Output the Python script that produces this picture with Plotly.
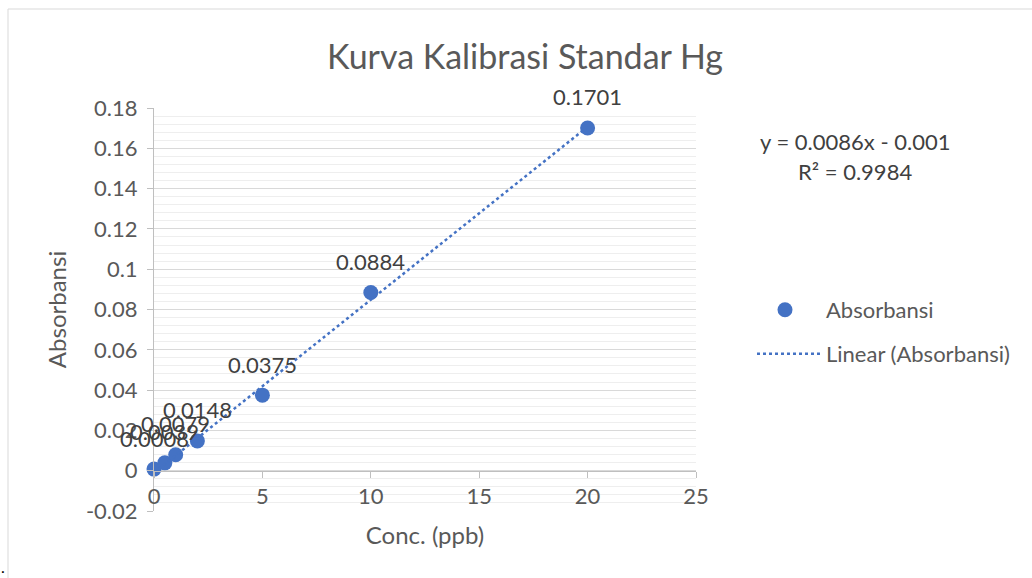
import numpy as np
import plotly.graph_objects as go

# ---- data ----
conc = [0, 0.5, 1, 2, 5, 10, 20]
absorb = [0.0008, 0.0039, 0.0079, 0.0148, 0.0375, 0.0884, 0.1701]
point_labels = ["0.0008", "0.0039", "0.0079", "0.0148", "0.0375", "0.0884", "0.1701"]
y_tickvals = [-0.02, 0, 0.02, 0.04, 0.06, 0.08, 0.1, 0.12, 0.14, 0.16, 0.18]
y_ticktext = ["-0.02", "0", "0.02", "0.04", "0.06", "0.08", "0.1", "0.12", "0.14", "0.16", "0.18"]
x_tickvals = [0, 5, 10, 15, 20, 25]
equation_text = "y = 0.0086x - 0.001"
r2_text = "R² = 0.9984"
title_text = "Kurva Kalibrasi Standar Hg"

# ---- layout geometry (pixels) ----
W, H = 1032, 578
L, R, T, B = 154, 696, 108, 511
def px(xp):
    return (xp - L) / (R - L)
def py(yp):
    return (B - yp) / (B - T)

FONT = "Lato"
TXT = "#595959"
BLUE = "#4472C4"

# trendline via least squares
slope, intercept = np.polyfit(conc, absorb, 1)
trend_x = [min(conc), max(conc)]
trend_y = [slope * v + intercept for v in trend_x]

fig = go.Figure()
fig.add_trace(go.Scatter(
    x=conc, y=absorb, mode="markers", name="Absorbansi", showlegend=True,
    marker=dict(color=BLUE, size=15), legend="legend", cliponaxis=False))
fig.add_trace(go.Scatter(
    x=trend_x, y=trend_y, mode="lines", name="Linear (Absorbansi)", showlegend=True,
    line=dict(color=BLUE, width=2.5, dash="dot"), legend="legend2"))

for xv, yv, lab in zip(conc, absorb, point_labels):
    fig.add_annotation(x=xv, y=yv, text=lab, showarrow=False, yshift=31,
                       font=dict(family=FONT, size=22, color="#404040"))

fig.add_annotation(xref="paper", yref="paper", x=px(855), y=py(141), text=equation_text,
                   xanchor="center", yanchor="middle",
                   showarrow=False, font=dict(family=FONT, size=22, color="#404040"))
fig.add_annotation(xref="paper", yref="paper", x=px(855), y=py(171), text=r2_text,
                   xanchor="center", yanchor="middle",
                   showarrow=False, font=dict(family=FONT, size=22, color="#404040"))
fig.add_annotation(xref="paper", yref="paper", x=px(3), y=py(578), text=".",
                   xanchor="center", yanchor="bottom",
                   showarrow=False, font=dict(family=FONT, size=16, color="#000000"))

# chart border
fig.add_shape(type="rect", xref="paper", yref="paper",
              x0=px(8), x1=px(1040), y0=py(586), y1=py(9),
              line=dict(color="#d9d9d9", width=1), layer="below")

fig.update_layout(
    width=W, height=H, showlegend=True,
    margin=dict(l=L, r=W - R, t=T, b=H - B, autoexpand=False),
    paper_bgcolor="white", plot_bgcolor="white",
    font=dict(family=FONT, size=22, color=TXT),
    title=dict(text=title_text, x=525 / W, xref="container", xanchor="center",
               y=1 - 57 / H, yref="container", yanchor="middle",
               font=dict(family=FONT, size=34, color=TXT)),
    legend=dict(x=px(744), y=py(310), xanchor="left", yanchor="middle", itemwidth=72,
                font=dict(family=FONT, size=22, color=TXT), bgcolor="rgba(0,0,0,0)"),
    legend2=dict(x=px(752), y=py(354), xanchor="left", yanchor="middle", itemwidth=64,
                 font=dict(family=FONT, size=22, color=TXT), bgcolor="rgba(0,0,0,0)"),
    xaxis=dict(range=[0, 25], tickvals=x_tickvals, anchor="free", position=0.1,
               showgrid=False, zeroline=False, showline=True, linecolor="#bfbfbf", linewidth=1,
               ticks="outside", ticklen=6, tickcolor="#bfbfbf", ticklabelstandoff=0,
               tickfont=dict(family=FONT, size=22, color=TXT),
               title=dict(text="Conc. (ppb)", standoff=19, font=dict(family=FONT, size=24, color=TXT))),
    yaxis=dict(range=[-0.02, 0.18], tickvals=y_tickvals, ticktext=y_ticktext,
               showgrid=True, gridcolor="#d9d9d9", gridwidth=1, zeroline=False,
               showline=True, linecolor="#bfbfbf", linewidth=1,
               ticks="outside", ticklen=6, tickcolor="#bfbfbf", ticklabelstandoff=5,
               minor=dict(dtick=0.004, showgrid=True, gridcolor="#eeeeee", tick0=0),
               tickfont=dict(family=FONT, size=22, color=TXT),
               title=dict(text="Absorbansi", standoff=12, font=dict(family=FONT, size=24, color=TXT))),
)

fig.write_html("out.html", post_script="document.body.style.margin='0';",
               config={"displayModeBar": False})
